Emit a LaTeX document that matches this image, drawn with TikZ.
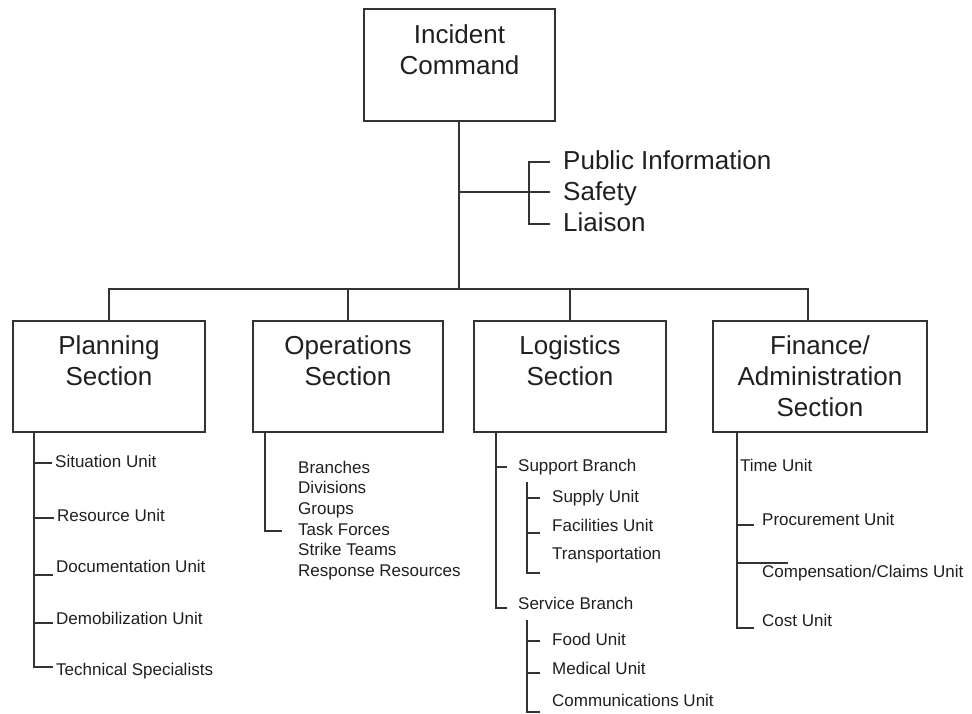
\documentclass[tikz,border=0pt]{standalone}
\usepackage{fontspec}
\setmainfont{Liberation Sans}
\usetikzlibrary{positioning}

\definecolor{linegray}{gray}{0.2}
\definecolor{textgray}{gray}{0.12}

\begin{document}
\begin{tikzpicture}[
  x=1pt, y=-1pt,
  box/.style={rectangle, draw=linegray, line width=1.9pt, minimum width=191pt, minimum height=111pt, align=center, inner sep=0pt, text=textgray, font=\fontsize{26}{31}\selectfont},
  staff/.style={anchor=west, inner xsep=3pt, inner ysep=0pt, text height=19pt, text depth=5pt, text=textgray, font=\fontsize{26}{31}\selectfont},
  item/.style={anchor=west, inner xsep=3pt, inner ysep=0pt, text height=12pt, text depth=3.5pt, text=textgray, font=\fontsize{17}{20}\selectfont},
  wire/.style={draw=linegray, line width=1.9pt},
]
\useasboundingbox (0,0) rectangle (972,713);

% command and the four sections
\node[box, minimum height=112pt] (ic) at (459.5,65) {Incident\\Command\\\mbox{}};
\node[box, minimum width=192pt] (plan) at (109,376.5) {Planning\\Section\\\mbox{}};
\node[box, minimum width=190pt] (ops)  at (348,376.5) {Operations\\Section\\\mbox{}};
\node[box, minimum width=192pt] (log)  at (570,376.5) {Logistics\\Section\\\mbox{}};
\node[box, minimum width=214pt] (fin)  at (820,376.5) {Finance/\\Administration\\Section};

% command staff
\node[staff] (pi) at (560,162) {Public Information};
\node[staff] (sf) at (560,193) {Safety};
\node[staff] (li) at (560,224) {Liaison};

\coordinate (bar)  at (459,289);
\coordinate (jfin) at (808,289);
\coordinate (stj)  at (529,192);

\draw[wire] (ic.south -| bar) -- (bar);
\draw[wire] (plan.north) |- (jfin) -- (jfin |- fin.north);
\draw[wire] (ops.north) -- (ops.north |- bar);
\draw[wire] (log.north) -- (log.north |- bar);
\draw[wire, shorten >=10pt] (bar |- stj) -- (stj -| sf.west);
\draw[wire, shorten <=10pt, shorten >=10pt] (pi.west) -| (stj) |- (li.west);

% planning units
\coordinate (plt) at (34,432);
\node[item] (pl1) at (52,463) {Situation Unit};
\node[item] (pl2) at (54,517) {Resource Unit};
\node[item] (pl3) at (53,568) {Documentation Unit};
\node[item] (pl4) at (53,620) {Demobilization Unit};
\node[item] (pl5) at (53,671) {Technical Specialists};

\draw[wire] (plt) |- (pl1.west)
            (plt) |- ([yshift=-1pt]pl2.west)
            (plt) |- ([yshift=-7pt]pl3.west)
            (plt) |- ([yshift=-3pt]pl4.west)
            (plt) |- ([yshift=4pt]pl5.west);

% operations
\coordinate (opt) at (265,432);
\node[item] (op1) at (295,469) {Branches};
\node[item, below=4.7pt of op1.south west, anchor=north west] (op2) {Divisions};
\node[item, below=4.7pt of op2.south west, anchor=north west] (op3) {Groups};
\node[item, below=4.7pt of op3.south west, anchor=north west] (op4) {Task Forces};
\node[item, below=4.7pt of op4.south west, anchor=north west] (op5) {Strike Teams};
\node[item, below=4.7pt of op5.south west, anchor=north west] (op6) {Response Resources};

\draw[wire, shorten >=13pt] (opt) |- (op4.west);

% logistics branches
\coordinate (lgt) at (496,432);
\node[item] (sb) at (515,467) {Support Branch};
\node[item] (vb) at (515,605) {Service Branch};

\draw[wire, shorten >=8pt] (lgt) |- (sb.west);
\draw[wire, shorten >=8pt] (lgt) |- ([yshift=-3pt]vb.west);

\coordinate (sbt) at (527,482);
\node[item] (su1) at (549,498) {Supply Unit};
\node[item] (su2) at (549,527) {Facilities Unit};
\node[item] (su3) at (549,555) {Transportation};

\draw[wire, shorten >=9pt] (sbt) |- (su1.west);
\draw[wire, shorten >=9pt] (sbt) |- ([yshift=-6pt]su2.west);
\draw[wire, shorten >=9pt] (sbt) |- ([yshift=-18pt]su3.west);

\coordinate (vbt) at (527,620);
\node[item] (sv1) at (549,641) {Food Unit};
\node[item] (sv2) at (549,670) {Medical Unit};
\node[item] (sv3) at (549,702) {Communications Unit};

\draw[wire, shorten >=9pt] (vbt) |- (sv1.west);
\draw[wire, shorten >=9pt] (vbt) |- ([yshift=-3pt]sv2.west);
\draw[wire, shorten >=9pt] (vbt) |- ([yshift=-10pt]sv3.west);

% finance units
\coordinate (fnt) at (737,432);
\node[item] (tu) at (737,467) {Time Unit};
\node[item] (pu) at (759,521) {Procurement Unit};
\node[item] (cu) at (759,573) {Compensation/Claims Unit};
\node[item] (cs) at (759,622) {Cost Unit};

\draw[wire, shorten >=5pt]   (fnt) |- ([yshift=-6pt]cs.west);
\draw[wire, shorten >=5pt]   (fnt) |- ([yshift=-4pt]pu.west);
\draw[wire, shorten >=-29pt] (fnt) |- ([yshift=10pt]cu.west);
\end{tikzpicture}
\end{document}
